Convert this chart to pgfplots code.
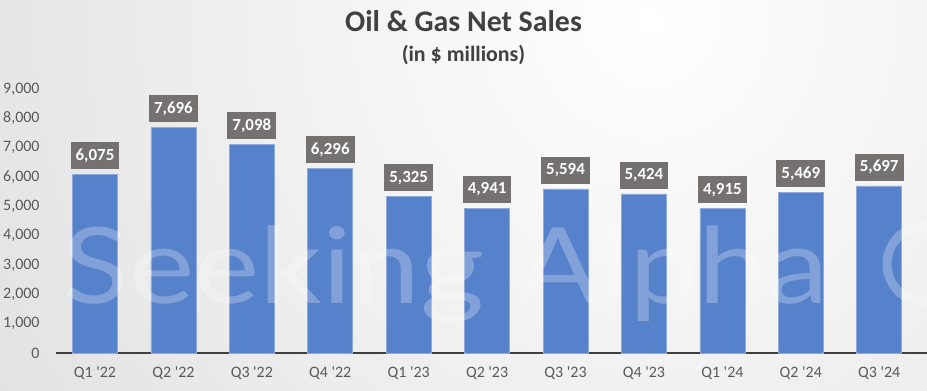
\documentclass[border=0pt]{standalone}
\usepackage{pgfplots}
\pgfplotsset{compat=1.18}
\usepackage{fontspec}
\setmainfont{Carlito}
\newfontfamily\wmfont{Lato}
\definecolor{barblue}{HTML}{5681CB}
\definecolor{baredge}{HTML}{8FAADC}
\definecolor{lblgray}{HTML}{767171}
\definecolor{txtgray}{HTML}{595959}
\definecolor{titlegray}{HTML}{404040}
\newcommand{\q}{\textquotesingle}
\begin{document}
\begin{tikzpicture}[x=1bp,y=1bp]
\useasboundingbox (0,0) rectangle (927,390);
\begin{scope}
\clip (0,0) rectangle (927,390);
\shade[inner color=white, outer color=black!24] (650-1600,370-1600) rectangle (650+1600,370+1600);
\end{scope}
\begin{axis}[
  at={(95bp,37bp)}, anchor=origin,
  scale only axis, width=871bp, height=264bp,
  xmin=-0.497, xmax=10.61, ymin=0, ymax=9000,
  ybar, bar width=45bp,
  axis x line*=bottom, axis y line*=left,
  x axis line style={draw=titlegray, line width=2.2bp},
  y axis line style={draw=none},
  xtick={0,...,10},
  xticklabels={Q1 \q22,Q2 \q22,Q3 \q22,Q4 \q22,Q1 \q23,Q2 \q23,Q3 \q23,Q4 \q23,Q1 \q24,Q2 \q24,Q3 \q24},
  ytick={0,1000,...,9000},
  major tick length=0pt,
  tick style={draw=none},
  /pgf/number format/assume math mode=true,
  /pgf/number format/.cd, 1000 sep={,}, fixed, /pgfplots/.cd,
  xticklabel style={font=\fontsize{16}{18}\selectfont, text=txtgray, yshift=-10bp},
  yticklabel style={font=\fontsize{16}{18}\selectfont, text=txtgray, anchor=east, xshift=-13bp},
  nodes near coords,
  every node near coord/.append style={font=\bfseries\fontsize{17}{19}\selectfont, text=white, fill=lblgray, inner xsep=5bp, minimum height=27bp, anchor=south, yshift=5bp},
  clip=false,
]
\addplot[fill=barblue, draw=baredge, line width=0.7bp] coordinates {
(0,6075) (1,7696) (2,7098) (3,6296) (4,5325) (5,4941) (6,5594) (7,5424) (8,4915) (9,5469) (10,5697)};
\end{axis}
\begin{scope}
\clip (0,0) rectangle (927,390);
\node[anchor=base west, text=white, opacity=0.26, font=\wmfont\fontsize{106}{110}\selectfont, inner sep=0pt, xscale=1.17] at (62,87) {Seeking Alpha};
\draw[white, opacity=0.26, line width=9bp] (925,126) circle (38);
\end{scope}
\node[font=\bfseries\fontsize{30}{34}\selectfont, text=titlegray] at (463.5,369) {Oil \& Gas Net Sales};
\node[font=\bfseries\fontsize{22}{25}\selectfont, text=titlegray] at (463.5,335) {(in \$ millions)};
\end{tikzpicture}
\end{document}
